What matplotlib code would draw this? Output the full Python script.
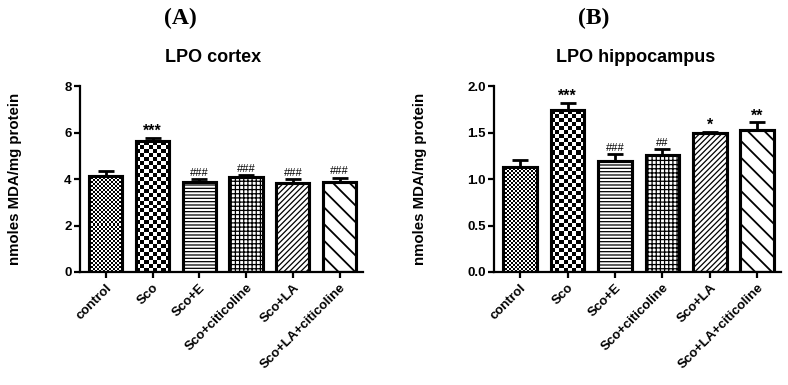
import numpy as np
import matplotlib
matplotlib.use("Agg")
import matplotlib.pyplot as plt

plt.rcParams['font.family'] = ['Liberation Sans', 'DejaVu Sans']
plt.rcParams['font.weight'] = 'bold'

groups = ['control', 'Sco', 'Sco+E', 'Sco+citicoline', 'Sco+LA', 'Sco+LA+citicoline']

cortex_mean = [4.15, 5.63, 3.85, 4.10, 3.83, 3.88]
cortex_err = [0.20, 0.15, 0.14, 0.06, 0.16, 0.17]
cortex_marks = ['', '***', '###', '###', '###', '###']

hippo_mean = [1.13, 1.74, 1.19, 1.26, 1.50, 1.53]
hippo_err = [0.07, 0.08, 0.08, 0.06, 0.01, 0.08]
hippo_marks = ['', '***', '###', '##', '*', '**']

# pattern per bar: ('check', cell px) or hatch string
patterns = [('check', 2), ('check', 4), '-----', '++++', '//////', '\\\\']

fig = plt.figure(figsize=(7.88, 3.85), dpi=100)
ax1 = fig.add_axes([80/788, 113/385, 283/788, 186/385])
ax2 = fig.add_axes([494/788, 113/385, 287/788, 186/385])


def checker(ax, bar, cell):
    x, y = bar.get_x(), bar.get_y()
    w, h = bar.get_width(), bar.get_height()
    p0 = ax.transData.transform((x, y))
    p1 = ax.transData.transform((x + w, y + h))
    nx = max(1, int(round((p1[0] - p0[0]) / cell)))
    ny = max(1, int(round((p1[1] - p0[1]) / cell)))
    board = (np.add.outer(np.arange(ny), np.arange(nx)) % 2).astype(float)
    im = ax.imshow(board, cmap='gray', extent=(x, x + w, y, y + h),
                   interpolation='nearest', aspect='auto', zorder=2.5,
                   vmin=0, vmax=1)
    im.set_clip_path(bar)


def panel(ax, means, errs, marks, ylim, yticks, fmt, ylab_x):
    xs = np.arange(len(groups))
    ax.set_xlim(-0.55, len(groups) - 0.5)
    ax.set_ylim(*ylim)
    bars = ax.bar(xs, means, width=0.71, color='white', edgecolor='black',
                  linewidth=2.2, zorder=2)
    for b, pat in zip(bars, patterns):
        if isinstance(pat, tuple):
            checker(ax, b, pat[1])
        else:
            b.set_hatch(pat)
            if hasattr(b, 'set_hatch_linewidth'):
                b.set_hatch_linewidth(1.3 if pat == '\\\\' else 0.9)
    ax.set_xlim(-0.55, len(groups) - 0.5)
    ax.set_ylim(*ylim)
    # redraw edges on top of images
    ax.bar(xs, means, width=0.71, color='none', edgecolor='black',
           linewidth=2.2, zorder=3)
    ax.errorbar(xs, means, yerr=[np.zeros(len(errs)), errs], fmt='none',
                ecolor='black', elinewidth=2, capsize=6, capthick=2, zorder=4)
    for x, m, e, t in zip(xs, means, errs, marks):
        if not t:
            continue
        if '*' in t:
            ax.annotate(t, (x, m + e), xytext=(0, -1), textcoords='offset points',
                        ha='center', va='bottom', fontsize=11.5, fontweight='bold')
        else:
            ax.annotate(t, (x, m + e), xytext=(0, 1), textcoords='offset points',
                        ha='center', va='bottom', fontsize=8, fontweight='normal')
    for s in ['top', 'right']:
        ax.spines[s].set_visible(False)
    for s in ['left', 'bottom']:
        ax.spines[s].set_linewidth(1.6)
    ax.set_yticks(yticks)
    ax.set_yticklabels([fmt.format(v) for v in yticks], fontsize=9.5, fontweight='bold')
    ax.set_xticks(xs)
    ax.set_xticklabels(groups, rotation=45, ha='right', rotation_mode='anchor',
                       fontsize=9.5, fontweight='bold')
    ax.tick_params(axis='both', width=1.6, length=4, direction='out', pad=2)
    ax.tick_params(axis='x', pad=3)
    ax.set_ylabel('nmoles MDA/mg protein', fontsize=10.8, fontweight='bold')
    ax.yaxis.set_label_coords(ylab_x, 0.5)


panel(ax1, cortex_mean, cortex_err, cortex_marks, (0, 8), [0, 2, 4, 6, 8],
      '{:g}', -58/283)
panel(ax2, hippo_mean, hippo_err, hippo_marks, (0, 2.0), [0, 0.5, 1.0, 1.5, 2.0],
      '{:.1f}', -67/287)

fig.text(213/788, 1 - 58/385, 'LPO cortex', ha='center', va='center',
         fontsize=13, fontweight='bold')
fig.text(636/788, 1 - 58/385, 'LPO hippocampus', ha='center', va='center',
         fontsize=13, fontweight='bold')
fig.text(180/788, 1 - 18/385, '(A)', ha='center', va='center', fontsize=17,
         fontweight='bold', family='Liberation Serif')
fig.text(594/788, 1 - 18/385, '(B)', ha='center', va='center', fontsize=17,
         fontweight='bold', family='Liberation Serif')

fig.savefig('out.png', dpi=100)
